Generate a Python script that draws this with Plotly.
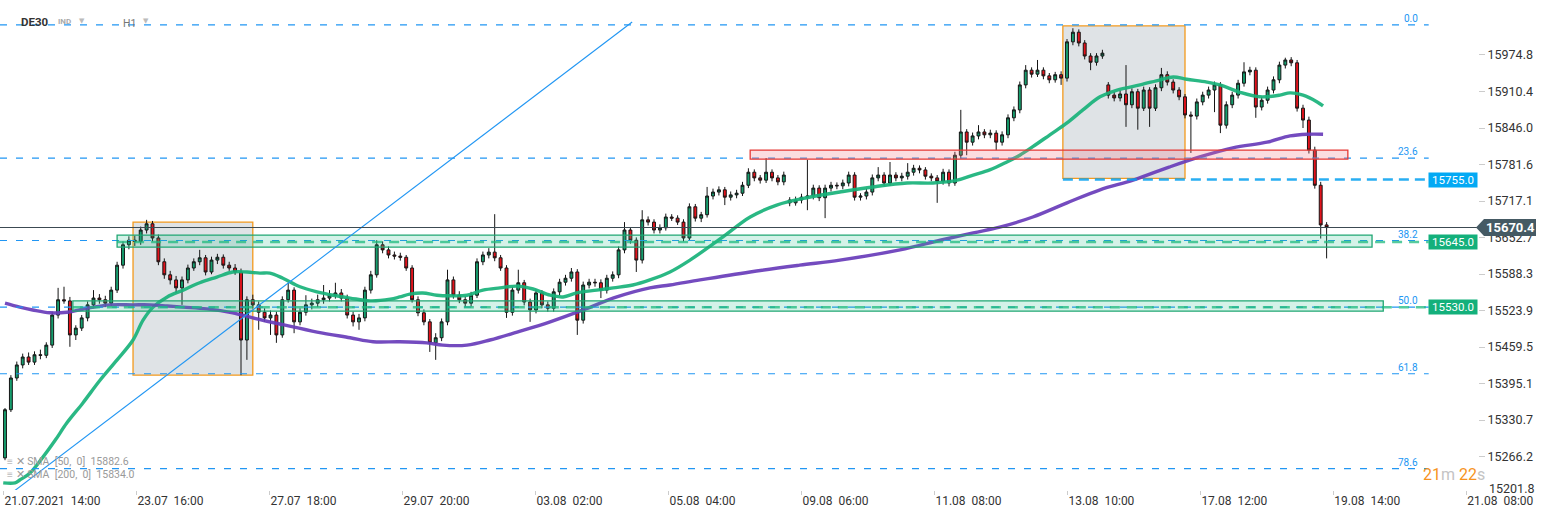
import plotly.graph_objects as go

# ---------------- data (2-hour candles) ----------------
opens = [
15264,15349,15405,15428,15442,15433,15446,15445,15463,15516,
15543,15541,15481,15493,15511,15534,15546,15543,15537,15560,
15604,15640,15648,15646,15666,15677,15652,15610,15587,15578,
15564,15578,15599,15610,15617,15592,15613,15618,15604,15599,
15592,15472,15543,15534,15521,15511,15516,15481,15543,15560,
15504,15521,15534,15537,15543,15546,15551,15555,15546,15516,
15504,15511,15560,15587,15640,15631,15622,15620,15618,15599,
15543,15520,15504,15467,15476,15504,15578,15551,15543,15537,
15551,15610,15622,15627,15617,15599,15521,15560,15573,15539,
15525,15555,15534,15528,15557,15574,15581,15592,15507,15569,
15574,15573,15560,15581,15587,15631,15666,15648,15613,15684,
15680,15666,15670,15689,15687,15680,15652,15707,15687,15693,
15726,15733,15737,15724,15728,15731,15745,15768,15758,15754,
15768,15758,15751,15719,15714,15719,15724,15726,15740,15723,
15740,15745,15744,15749,15763,15724,15726,15733,15758,15763,
15749,15763,15758,15761,15768,15775,15772,15761,15758,15752,
15768,15749,15798,15839,15821,15832,15839,15834,15837,15821,
15834,15864,15878,15922,15948,15941,15948,15938,15931,15940,
15934,15998,16015,15996,15973,15962,15973,15922,15904,15899,
15906,15887,15910,15881,15913,15881,15917,15940,15927,15913,
15901,15869,15867,15892,15904,15913,15922,15851,15887,15904,
15925,15945,15948,15883,15895,15913,15931,15957,15966,15961,
15881,15860,15807,15745,15675]

highs = [
15352,15410,15434,15448,15450,15452,15455,15468,15522,15564,
15566,15548,15498,15516,15540,15560,15553,15550,15566,15610,
15646,15655,15656,15672,15684,15682,15658,15616,15594,15585,
15584,15605,15616,15631,15622,15619,15624,15623,15610,15606,
15598,15549,15552,15540,15528,15524,15522,15549,15573,15565,
15528,15551,15545,15552,15569,15560,15573,15562,15552,15522,
15518,15566,15594,15648,15646,15637,15628,15626,15622,15604,
15549,15526,15509,15484,15510,15596,15584,15558,15549,15557,
15616,15628,15634,15694,15622,15604,15566,15596,15578,15545,
15561,15560,15540,15563,15580,15587,15599,15597,15575,15580,
15580,15579,15587,15593,15637,15680,15671,15653,15701,15690,
15685,15676,15695,15694,15692,15685,15713,15712,15698,15742,
15739,15743,15742,15734,15737,15751,15775,15773,15763,15793,
15773,15763,15769,15724,15725,15730,15790,15746,15745,15746,
15751,15750,15755,15769,15768,15731,15739,15764,15777,15768,
15786,15768,15767,15784,15781,15780,15777,15766,15763,15774,
15773,15804,15878,15844,15838,15851,15844,15843,15842,15840,
15870,15884,15928,15957,15953,15966,15953,15943,15945,15946,
16003,16022,16020,16001,15978,15978,15984,15927,15910,15912,
15957,15916,15915,15919,15918,15923,15952,15946,15932,15918,
15906,15875,15898,15910,15919,15928,15927,15893,15910,15931,
15962,15954,15953,15901,15919,15937,15963,15970,15971,15966,
15887,15866,15813,15751,15680]

lows = [
15260,15345,15400,15422,15428,15428,15438,15440,15458,15510,
15536,15460,15472,15488,15505,15528,15536,15530,15532,15555,
15598,15632,15638,15640,15660,15646,15604,15580,15570,15555,
15534,15572,15594,15604,15586,15588,15606,15598,15594,15587,
15410,15437,15528,15490,15504,15481,15467,15476,15538,15484,
15498,15515,15526,15530,15536,15540,15545,15540,15510,15496,
15490,15505,15554,15582,15625,15616,15614,15612,15594,15538,
15514,15498,15451,15437,15470,15498,15545,15537,15530,15531,
15546,15604,15616,15611,15594,15511,15515,15554,15533,15504,
15519,15528,15522,15522,15551,15568,15575,15481,15501,15563,
15566,15546,15554,15575,15581,15625,15642,15592,15607,15674,
15660,15660,15665,15682,15675,15646,15647,15681,15680,15688,
15720,15727,15710,15718,15722,15726,15740,15752,15748,15749,
15752,15745,15745,15708,15709,15713,15701,15720,15717,15687,
15734,15738,15738,15743,15718,15718,15720,15727,15752,15743,
15744,15752,15752,15755,15762,15766,15755,15752,15714,15746,
15743,15744,15792,15798,15815,15826,15828,15828,15807,15815,
15828,15858,15872,15916,15935,15936,15932,15925,15926,15922,
15928,15992,15990,15967,15948,15956,15968,15898,15893,15893,
15848,15881,15843,15876,15848,15876,15911,15921,15907,15895,
15863,15802,15861,15886,15898,15874,15837,15845,15881,15898,
15919,15939,15864,15877,15889,15907,15925,15951,15955,15875,
15846,15801,15739,15651,15616]

closes = [
15349,15405,15428,15442,15433,15446,15445,15463,15516,15543,
15541,15481,15493,15511,15534,15546,15543,15537,15560,15604,
15640,15648,15646,15666,15677,15652,15610,15587,15578,15564,
15578,15599,15610,15617,15592,15613,15618,15604,15599,15592,
15472,15543,15534,15521,15511,15516,15481,15543,15560,15504,
15521,15534,15537,15543,15546,15551,15555,15546,15516,15504,
15511,15560,15587,15640,15631,15622,15620,15618,15599,15543,
15520,15504,15467,15476,15504,15578,15551,15543,15537,15551,
15610,15622,15627,15617,15599,15521,15560,15573,15539,15525,
15555,15534,15528,15557,15574,15581,15592,15507,15569,15574,
15573,15560,15581,15587,15631,15666,15648,15613,15684,15680,
15666,15670,15689,15687,15680,15652,15707,15687,15693,15726,
15733,15737,15724,15728,15731,15745,15768,15758,15754,15768,
15758,15751,15763,15714,15719,15724,15726,15740,15723,15740,
15745,15744,15749,15763,15724,15726,15733,15758,15763,15749,
15763,15758,15761,15768,15775,15772,15761,15758,15752,15768,
15749,15798,15839,15821,15832,15839,15834,15837,15821,15834,
15864,15878,15922,15948,15941,15948,15938,15931,15940,15934,
15998,16015,15996,15973,15962,15973,15978,15904,15899,15906,
15887,15910,15881,15913,15881,15917,15940,15927,15913,15901,
15869,15867,15892,15904,15913,15922,15851,15887,15904,15925,
15945,15948,15883,15895,15913,15931,15957,15966,15961,15881,
15860,15807,15745,15675,15670.4]

sma50_x = [-0.3, 1.7, 2.5, 4.2, 6.4, 8.5, 10.5, 13.2, 16.1, 19, 21.7, 23.4,
           25.1, 27.5, 30.2, 33, 35.9, 38.6, 41, 43.2, 44.9, 47.1, 50, 52.9,
           55.6, 58.5, 61.9, 65.3, 66.9, 68.6, 70.8, 73.2, 75.4, 78.3, 81,
           83.9, 86.8, 89.5, 92.4, 94.6, 96.9, 100.3, 103.1, 106.4, 109.3,
           112.7, 116.1, 121.7, 126.3, 130.8, 135.9, 141.5, 147.1, 152.9,
           157.3, 161.4, 164.1, 166.9, 169.8, 172, 174.2, 177.1, 180, 182.7,
           185.6, 188.5, 192.4, 195.8, 198, 200.3, 203.7, 205.9, 209.3, 212.7,
           216.1, 217.8, 220, 222.4, 223.4]
sma50_y = [15220, 15220, 15225, 15237, 15265, 15295, 15326, 15361, 15401, 15437, 15472, 15507,
           15530, 15548, 15560, 15573, 15583, 15592, 15592, 15590, 15590, 15581, 15566, 15557,
           15551, 15546, 15541, 15544, 15548, 15553, 15555, 15551, 15550, 15551, 15560,
           15564, 15567, 15562, 15551, 15548, 15555, 15560, 15564, 15569, 15578,
           15592, 15613, 15654, 15689, 15710, 15723, 15733, 15742, 15749,
           15749, 15754, 15763, 15772, 15786, 15798, 15813, 15834, 15855, 15878,
           15901, 15913, 15922, 15931, 15936, 15932, 15927, 15922, 15909, 15901,
           15904, 15908, 15904, 15892, 15885]

sma200_x = [0, 2.5, 4.7, 7.6, 10.5, 13.9, 17.8, 21.7, 24.6, 27.5, 30.2, 34.2,
            38.6, 42, 47.1, 52.9, 58.5, 62.4, 66.9, 71.5, 74.2, 78.3, 82.2,
            86.8, 92.4, 98, 103.7, 109.3, 112.7, 117.8, 126.3, 134.7, 141.5,
            151.7, 158.5, 164.1, 168.6, 174.2, 180, 185.6, 191.2, 197.3, 202.5,
            208.1, 213.9, 217.8, 220.7, 223.4]
sma200_y = [15537, 15530, 15525, 15520, 15521, 15528, 15534, 15534, 15534, 15532, 15530, 15527,
            15520, 15511, 15499, 15486, 15476, 15469, 15469, 15467, 15463, 15463, 15472,
            15486, 15504, 15525, 15548, 15564, 15569, 15578, 15592, 15604, 15613,
            15631, 15648, 15661, 15671, 15689, 15714, 15737, 15754, 15777, 15795,
            15811, 15821, 15832, 15835, 15835]

tick_labels = ["21.07.2021  14:00", "23.07  16:00", "27.07  18:00", "29.07  20:00",
               "03.08  02:00", "05.08  04:00", "09.08  06:00", "11.08  08:00",
               "13.08  10:00", "17.08  12:00", "19.08  14:00", "21.08  08:00"]
price_ticks = [15974.8, 15910.4, 15846.0, 15781.6, 15717.1, 15652.7,
               15588.3, 15523.9, 15459.5, 15395.1, 15330.7, 15266.2]
bottom_price_label = "15201.8"

fib_high = 16028.0
fib_low = 15032.0
fib_levels = [0.0, 23.6, 38.2, 50.0, 61.8, 78.6]

last_price = 15670.4
level_labels = [(15755.0, "#03a9f4"), (15645.0, "#13b07b"), (15530.0, "#13b07b")]
sma_legend = ["SMA  [50,  0]  15882.6", "SMA  [200,  0]  15834.0"]

# drawing-tool objects (bar index, price)
trend_start = (1.36, 15204.0)
trend_end = (106.3, 16033.0)
gray_boxes = [(21.7, 42.0, 15410.0, 15680.0), (179.3, 200.0, 15757.0, 16026.0)]
green_zones = [(19.0, 231.7, 15636.0, 15657.0), (11.5, 233.6, 15523.0, 15541.0)]
red_zone = (126.3, 227.6, 15791.0, 15807.0)

# ---------------- geometry ----------------
W, H = 1546, 518
ML, MR, MT, MB = 0, 68, 0, 28
PW, PH = W - ML - MR, H - MT - MB
X0, X1 = -0.847, 249.66
Y0, Y1 = 15207.4, 16071.8
LINE_END = 241.3   # where level lines stop (left of value boxes)

def px_x(p):
    return p / PW

def px_y(p):
    return 1 - p / PH

nb = "\u00a0"
idx = list(range(len(closes)))

fig = go.Figure()
fig.add_trace(go.Candlestick(
    x=idx, open=opens, high=highs, low=lows, close=closes,
    increasing=dict(fillcolor="#169e6e", line=dict(color="#151515", width=1)),
    decreasing=dict(fillcolor="#e3121b", line=dict(color="#151515", width=1)),
    whiskerwidth=0, showlegend=False, hoverinfo="skip"))
fig.add_trace(go.Scatter(x=sma50_x, y=sma50_y, mode="lines", showlegend=False,
                         line=dict(color="rgba(24,178,122,0.92)", width=3.4, shape="spline"),
                         hoverinfo="skip"))
fig.add_trace(go.Scatter(x=sma200_x, y=sma200_y, mode="lines", showlegend=False,
                         line=dict(color="rgba(104,60,186,0.92)", width=3.4, shape="spline"),
                         hoverinfo="skip"))

shapes = []
for (a, b, lo, hi) in gray_boxes:
    shapes.append(dict(type="rect", xref="x", yref="y", x0=a, x1=b, y0=lo, y1=hi,
                       fillcolor="#dfe3e6", line=dict(color="#f39a1e", width=1.3), layer="below"))

fib_prices = [fib_high - (fib_high - fib_low) * lv / 100 for lv in fib_levels]
for fp in fib_prices:
    shapes.append(dict(type="line", xref="x", yref="y", x0=X0, x1=LINE_END, y0=fp, y1=fp,
                       line=dict(color="#2196f3", width=1.2, dash="7px,9px"), layer="above"))

for (a, b, lo, hi) in green_zones:
    shapes.append(dict(type="rect", xref="x", yref="y", x0=a, x1=b, y0=lo, y1=hi,
                       fillcolor="rgba(40,190,140,0.20)", line=dict(color="#1ea672", width=1.3),
                       layer="above"))
for (a, b, lo, hi), (lvl, _) in zip(green_zones, level_labels[1:]):
    shapes.append(dict(type="line", xref="x", yref="y", x0=a, x1=LINE_END, y0=lvl, y1=lvl,
                       line=dict(color="rgba(30,185,125,0.75)", width=2.5, dash="10px,7px"),
                       layer="above"))

a, b, lo, hi = red_zone
shapes.append(dict(type="rect", xref="x", yref="y", x0=a, x1=b, y0=lo, y1=hi,
                   fillcolor="rgba(240,120,130,0.25)", line=dict(color="#e53935", width=1.3),
                   layer="above"))

shapes.append(dict(type="line", xref="x", yref="y", x0=gray_boxes[1][0], x1=LINE_END,
                   y0=level_labels[0][0], y1=level_labels[0][0],
                   line=dict(color="rgba(3,160,240,0.85)", width=2.5, dash="10px,6px"), layer="above"))

shapes.append(dict(type="line", xref="x", yref="y", x0=trend_start[0], y0=trend_start[1],
                   x1=trend_end[0], y1=trend_end[1],
                   line=dict(color="#2196f3", width=1.1), layer="above"))

shapes.append(dict(type="line", xref="x", yref="y", x0=X0, x1=X1, y0=last_price, y1=last_price,
                   line=dict(color="#3c4a52", width=1.1), layer="above"))

lp_frac = (last_price - Y0) / (Y1 - Y0)
shapes.append(dict(type="path", xref="paper", yref="paper", xsizemode="pixel", ysizemode="pixel",
                   xanchor=1, yanchor=lp_frac,
                   path="M -2 0 L 6 8.5 L 58 8.5 L 58 -8.5 L 6 -8.5 Z",
                   fillcolor="#455a64", line=dict(width=0), layer="above"))

ann = []
for lv, fp in zip(fib_levels, fib_prices):
    ann.append(dict(x=239.9, y=fp, xref="x", yref="y", text=f"{lv:.1f}", showarrow=False,
                    xanchor="right", yanchor="bottom", yshift=-1,
                    font=dict(family="Roboto", size=10, color="#2196f3")))

for lvl, col in level_labels:
    ann.append(dict(x=1, y=lvl, xref="paper", yref="y", text=f"{lvl:.1f}", showarrow=False,
                    xanchor="right", yanchor="middle", bgcolor=col, borderpad=1,
                    width=46, height=12, align="center",
                    font=dict(family="Roboto", size=11.5, color="white")))

ann.append(dict(x=1, y=last_price, xref="paper", yref="y", text=f"<b>{last_price:.1f}</b>",
                showarrow=False, xanchor="center", yanchor="middle", xshift=32,
                font=dict(family="Roboto", size=13, color="white")))

ann.append(dict(x=px_x(1487), y=px_y(488), xref="paper", yref="paper", text=bottom_price_label,
                showarrow=False, xanchor="left", yanchor="middle",
                font=dict(family="Roboto", size=12.5, color="#333")))

# header
ann.append(dict(x=px_x(19), y=px_y(22), xref="paper", yref="paper", text="<b>DE30</b>",
                showarrow=False, xanchor="left", yanchor="middle",
                font=dict(family="Roboto", size=11.5, color="#333")))
ann.append(dict(x=px_x(56), y=px_y(22), xref="paper", yref="paper", text="<b>IND</b>",
                showarrow=False, xanchor="left", yanchor="middle",
                font=dict(family="Roboto", size=8, color="#aaa")))
ann.append(dict(x=px_x(77), y=px_y(21), xref="paper", yref="paper", text="▼",
                showarrow=False, xanchor="left", yanchor="middle",
                font=dict(family="DejaVu Sans", size=7, color="#bbb")))
ann.append(dict(x=px_x(121), y=px_y(23), xref="paper", yref="paper", text="H1",
                showarrow=False, xanchor="left", yanchor="middle",
                font=dict(family="Roboto", size=10.5, color="#777")))
ann.append(dict(x=px_x(141), y=px_y(21), xref="paper", yref="paper", text="▼",
                showarrow=False, xanchor="left", yanchor="middle",
                font=dict(family="DejaVu Sans", size=7, color="#bbb")))

# SMA legend
for i, t in enumerate(sma_legend):
    ann.append(dict(x=px_x(5), y=px_y(461 + 13.5 * i), xref="paper", yref="paper",
                    text="≡ ✕ " + t.replace("  ", nb + " "),
                    showarrow=False, xanchor="left", yanchor="middle",
                    font=dict(family="Roboto", size=10.5, color="#9a9a9a")))

# countdown
ann.append(dict(x=px_x(1421), y=px_y(474), xref="paper", yref="paper",
                text="<span style='color:#f7931e'>21</span><span style='color:#c4c4c4'>m</span> "
                     "<span style='color:#f7931e'>22</span><span style='color:#c4c4c4'>s</span>",
                showarrow=False, xanchor="left", yanchor="middle",
                font=dict(family="Roboto", size=16, color="#f7931e")))

tickvals = [-0.17 + 22.54 * k for k in range(len(tick_labels))]

fig.update_layout(
    width=W, height=H,
    margin=dict(l=ML, r=MR, t=MT, b=MB, pad=0),
    paper_bgcolor="white", plot_bgcolor="white",
    shapes=shapes, annotations=ann, showlegend=False,
    xaxis=dict(range=[X0, X1], rangeslider=dict(visible=False), showgrid=False, zeroline=False,
               tickmode="array", tickvals=tickvals,
               ticktext=[t.replace("  ", nb + " ") for t in tick_labels],
               ticks="outside", ticklen=4, tickcolor="#cccccc", tickwidth=1,
               ticklabelposition="outside right", showline=False,
               tickfont=dict(family="Roboto", size=12, color="#333")),
    yaxis=dict(range=[Y0, Y1], side="right", showgrid=False, zeroline=False,
               tickmode="array", tickvals=price_ticks,
               ticktext=[f"{v:.1f}" for v in price_ticks],
               ticks="outside", ticklen=6, tickcolor="#cccccc", tickwidth=1, showline=False,
               tickfont=dict(family="Roboto", size=12.5, color="#333")),
)

fig.write_html("out.html", config={"displayModeBar": False},
               post_script="document.body.style.margin='0';document.body.style.overflow='hidden';")
